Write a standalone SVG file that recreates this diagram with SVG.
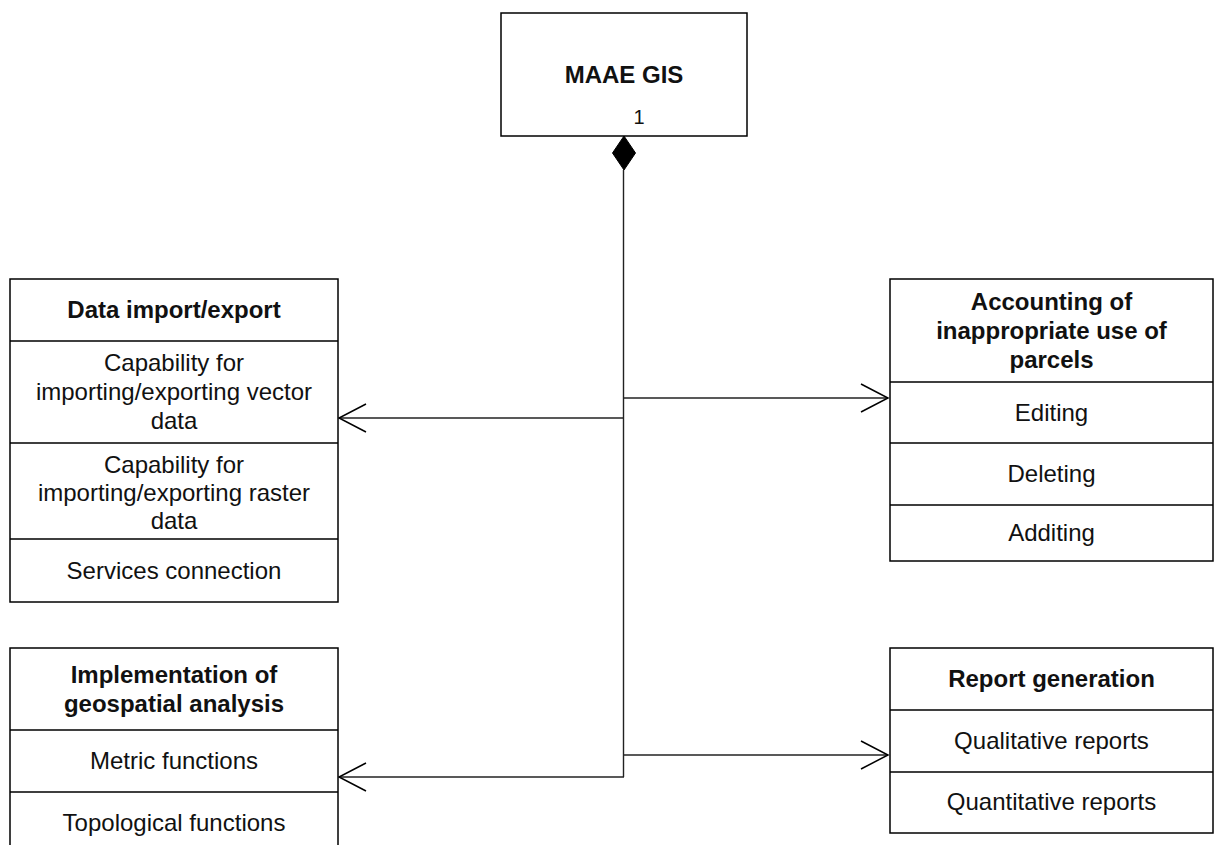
<svg xmlns="http://www.w3.org/2000/svg" width="1215" height="845" viewBox="0 0 1215 845">
<style>
.box{fill:#fff;stroke:#000;stroke-width:1.5}
.div{stroke:#000;stroke-width:1.5;fill:none}
.t{font-family:"Liberation Sans",Arial,sans-serif;font-size:24px;fill:#111;text-anchor:middle}
.b{font-weight:bold}
.conn{stroke:#222;stroke-width:1.4;fill:none}
.arr{stroke:#000;stroke-width:1.5;fill:none}
</style>
<rect width="1215" height="845" fill="#fff"/>
<g id="connectors">
<path class="conn" d="M623.5,170 V777"/>
<path class="conn" d="M624,418 H339"/>
<path class="conn" d="M624,398 H888"/>
<path class="conn" d="M624,777 H339"/>
<path class="conn" d="M624,755 H888"/>
<path class="arr" d="M366,404 L339,418 L366,432"/>
<path class="arr" d="M861,384 L888,398 L861,412"/>
<path class="arr" d="M366,763 L339,777 L366,791"/>
<path class="arr" d="M861,741 L888,755 L861,769"/>
<path d="M624,136 L635.5,153 L624,170 L612.5,153 Z" fill="#000" stroke="#000" stroke-width="1"/>
</g>
<g id="maae-gis">
<rect class="box" x="501" y="13" width="246" height="123"/>
<text class="t b" x="624" y="83">MAAE GIS</text>
<text class="t" x="639" y="124" style="font-size:20px">1</text>
</g>
<g id="data-import-export">
<rect class="box" x="10" y="279" width="328" height="323"/>
<path class="div" d="M10,341 H338 M10,443 H338 M10,539 H338"/>
<text class="t b" x="174" y="318">Data import/export</text>
<text class="t" x="174" y="371">Capability for</text>
<text class="t" x="174" y="400">importing/exporting vector</text>
<text class="t" x="174" y="429">data</text>
<text class="t" x="174" y="473">Capability for</text>
<text class="t" x="174" y="501">importing/exporting raster</text>
<text class="t" x="174" y="529">data</text>
<text class="t" x="174" y="579">Services connection</text>
</g>
<g id="accounting">
<rect class="box" x="890" y="279" width="323" height="282"/>
<path class="div" d="M890,382 H1213 M890,443 H1213 M890,505 H1213"/>
<text class="t b" x="1051.5" y="310">Accounting of</text>
<text class="t b" x="1051.5" y="339">inappropriate use of</text>
<text class="t b" x="1051.5" y="368">parcels</text>
<text class="t" x="1051.5" y="421">Editing</text>
<text class="t" x="1051.5" y="482">Deleting</text>
<text class="t" x="1051.5" y="541">Additing</text>
</g>
<g id="geospatial-analysis">
<rect class="box" x="10" y="648" width="328" height="210"/>
<path class="div" d="M10,730 H338 M10,792 H338"/>
<text class="t b" x="174" y="683">Implementation of</text>
<text class="t b" x="174" y="712">geospatial analysis</text>
<text class="t" x="174" y="769">Metric functions</text>
<text class="t" x="174" y="831">Topological functions</text>
</g>
<g id="report-generation">
<rect class="box" x="890" y="648" width="323" height="185"/>
<path class="div" d="M890,710 H1213 M890,772 H1213"/>
<text class="t b" x="1051.5" y="687">Report generation</text>
<text class="t" x="1051.5" y="749">Qualitative reports</text>
<text class="t" x="1051.5" y="810">Quantitative reports</text>
</g>
</svg>
